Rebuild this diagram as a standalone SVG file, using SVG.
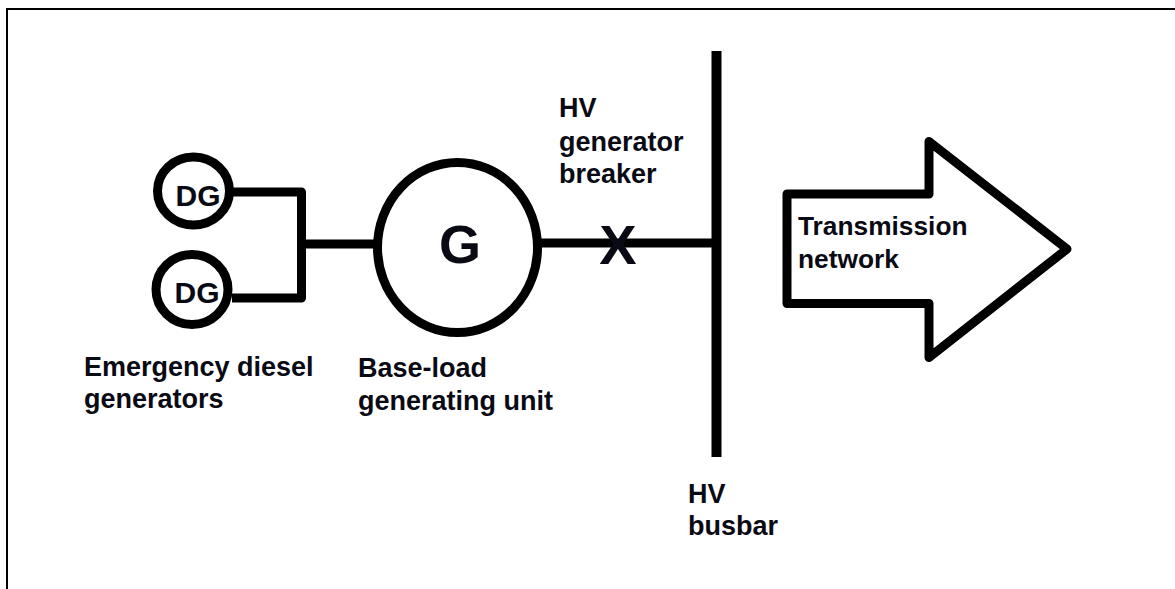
<svg xmlns="http://www.w3.org/2000/svg" width="1175" height="589" viewBox="0 0 1175 589">
<style>
.l{fill:none;stroke:#000;stroke-width:9;stroke-linejoin:round}
.t{font-family:"Liberation Sans",Arial,sans-serif;font-weight:bold;font-size:27px;fill:#0a0a14}
.d{font-size:30px}
</style>
<rect x="0" y="0" width="1175" height="589" fill="#fff"/>
<path d="M7 589V9H1175" fill="none" stroke="#000" stroke-width="2"/>
<g id="connectors">
<path class="l" d="M232 192H301.500V298H232M301 244H376M541 243H717"/>
</g>
<g id="dg1"><ellipse class="l" cx="193.500" cy="191" rx="36" ry="34"/><text class="t d" x="198" y="206" text-anchor="middle">DG</text></g>
<g id="dg2"><ellipse class="l" cx="192" cy="289.500" rx="36" ry="35"/><text class="t d" x="197" y="303" text-anchor="middle">DG</text></g>
<g id="g"><ellipse class="l" cx="457.500" cy="247.500" rx="80" ry="85"/><text class="t" x="460" y="263" text-anchor="middle" style="font-size:54px">G</text></g>
<g id="breaker"><text class="t" x="618" y="264" text-anchor="middle" style="font-size:56px">X</text></g>
<g id="busbar"><path class="l" d="M716.500 51V457" style="stroke-width:10"/></g>
<g id="arrow"><path class="l" d="M787 194H929V141.500L1067 249L929 357.500V303.500H787Z"/><text class="t" x="798" y="235" style="font-size:26.300px">Transmission</text><text class="t" x="798" y="268" style="font-size:26.300px">network</text></g>
<g id="labels">
<text class="t" x="84" y="376">Emergency diesel</text><text class="t" x="84" y="408">generators</text>
<text class="t" x="358" y="377">Base-load</text><text class="t" x="358" y="410">generating unit</text>
<text class="t" x="559" y="117">HV</text><text class="t" x="559" y="151">generator</text><text class="t" x="559" y="183">breaker</text>
<text class="t" x="688" y="503">HV</text><text class="t" x="688" y="535">busbar</text>
</g>
</svg>
